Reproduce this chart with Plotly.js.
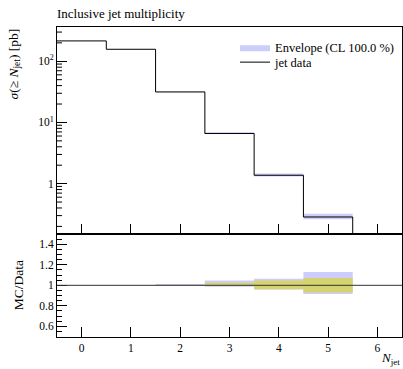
<!DOCTYPE html>
<html>
<head>
<meta charset="utf-8">
<script src="https://cdn.plot.ly/plotly-3.0.1.min.js"></script>
<style>
  html, body { margin: 0; padding: 0; background: #fff; }
  #plot { width: 403px; height: 369px; }
</style>
</head>
<body>
<div id="plot"></div>
<script>
// Inclusive jet multiplicity: cross section sigma(>= N_jet) with MC envelope and ratio panel
const nJet = [0, 1, 2, 3, 4, 5];
const binEdges = [-0.5, 0.5, 1.5, 2.5, 3.5, 4.5, 5.5];
const sigma = [215, 157, 31.5, 6.6, 1.37, 0.285];          // jet data [pb]
const envUp = [1.0, 1.0, 1.013, 1.046, 1.065, 1.130];      // envelope / data, upper
const envLo = [1.0, 1.0, 0.998, 0.987, 0.958, 0.915];      // envelope / data, lower
const uncUp = [1.001, 1.001, 1.003, 1.026, 1.046, 1.071];  // data band, upper
const uncLo = [0.999, 0.999, 0.997, 0.993, 0.961, 0.929];  // data band, lower
const xTickVals = [0, 1, 2, 3, 4, 5, 6];
const yTickVals = [1, 10, 100];
const yTickText = ['1', '10<sup>1</sup>', '10<sup>2</sup>'];

const FONT = '"Liberation Serif", serif';
const mainRange = [-0.817, 2.56];
const ratioRange = [0.496, 1.504];
const split = 0.3335;
const plotWidth = 403 - 57 - 1;

// repeat last value so an 'hv' line covers the final bin
const stepY = v => v.concat([v[v.length - 1]]);
const mul = (a, b) => a.map((v, i) => v * b[i]);

// short minor ticks of the log axis (2..9 in every decade), as domain-relative segments
const minorTicks = [];
for (let d = -1; d <= 2; d++) {
  for (let k = 2; k <= 9; k++) {
    const f = (Math.log10(k * Math.pow(10, d)) - mainRange[0]) / (mainRange[1] - mainRange[0]);
    if (f > 0 && f < 1) {
      minorTicks.push({ type: 'line', xref: 'x domain', yref: 'y domain',
        x0: 0, x1: 5 / plotWidth, y0: f, y1: f, line: { color: '#000', width: 1 } });
    }
  }
}

const envColor = '#cdcdfb';
const uncColor = '#d5d370';

const traces = [
  // envelope band in the main panel
  { x: binEdges, y: stepY(mul(sigma, envLo)), xaxis: 'x', yaxis: 'y', mode: 'lines',
    line: { shape: 'hv', width: 0 }, showlegend: false, hoverinfo: 'skip' },
  { x: binEdges, y: stepY(mul(sigma, envUp)), xaxis: 'x', yaxis: 'y', mode: 'lines',
    line: { shape: 'hv', width: 0 }, fill: 'tonexty', fillcolor: envColor,
    name: 'Envelope (CL 100.0 %)', legend: 'legend' },
  // measured histogram, dropping to the floor after the last bin
  { x: binEdges.concat([binEdges[binEdges.length - 1]]),
    y: stepY(sigma).concat([Math.pow(10, mainRange[0] - 1)]),
    xaxis: 'x', yaxis: 'y', mode: 'lines',
    line: { shape: 'hv', width: 1, color: '#000' }, name: 'jet data', legend: 'legend2' },
  // ratio panel: envelope band
  { x: binEdges, y: stepY(envLo), xaxis: 'x2', yaxis: 'y2', mode: 'lines',
    line: { shape: 'hv', width: 0 }, showlegend: false, hoverinfo: 'skip' },
  { x: binEdges, y: stepY(envUp), xaxis: 'x2', yaxis: 'y2', mode: 'lines',
    line: { shape: 'hv', width: 0 }, fill: 'tonexty', fillcolor: envColor,
    showlegend: false },
  // ratio panel: data uncertainty band
  { x: binEdges, y: stepY(uncLo), xaxis: 'x2', yaxis: 'y2', mode: 'lines',
    line: { shape: 'hv', width: 0 }, showlegend: false, hoverinfo: 'skip' },
  { x: binEdges, y: stepY(uncUp), xaxis: 'x2', yaxis: 'y2', mode: 'lines',
    line: { shape: 'hv', width: 0 }, fill: 'tonexty', fillcolor: uncColor,
    showlegend: false }
];

const xCommon = {
  range: [-0.5, 6.5], tickmode: 'array', tickvals: xTickVals,
  ticks: 'inside', ticklen: 10, tickwidth: 1, tickcolor: '#000',
  showline: true, linecolor: '#000', linewidth: 1, mirror: true,
  showgrid: false, zeroline: false
};
const tickFont = { family: FONT, size: 11.5, color: '#000' };

const layout = {
  width: 403, height: 369,
  margin: { l: 57, r: 1, t: 27, b: 32 },
  paper_bgcolor: '#fff', plot_bgcolor: '#fff',
  font: { family: FONT, size: 11.5, color: '#000' },
  title: { text: 'Inclusive jet multiplicity', font: { family: FONT, size: 13, color: '#000' },
           x: 0, xref: 'paper', xanchor: 'left', y: 1 - 13.5 / 369, yref: 'container', yanchor: 'middle' },
  xaxis: Object.assign({}, xCommon, { anchor: 'y', showticklabels: false }),
  xaxis2: Object.assign({}, xCommon, { anchor: 'y2', showticklabels: true, tickfont: tickFont }),
  yaxis: {
    domain: [split, 1], anchor: 'x', type: 'log', range: mainRange,
    tickmode: 'array', tickvals: yTickVals, ticktext: yTickText,
    ticks: 'inside', ticklen: 10, tickwidth: 1, tickcolor: '#000',
    showline: true, linecolor: '#000', linewidth: 1, mirror: true,
    showgrid: false, zeroline: false, tickfont: tickFont
  },
  yaxis2: {
    domain: [0, split], anchor: 'x2', range: ratioRange,
    tick0: 0, dtick: 0.2,
    ticks: 'inside', ticklen: 10, tickwidth: 1, tickcolor: '#000',
    minor: { ticks: 'inside', ticklen: 5, tickwidth: 1, tickcolor: '#000', dtick: 0.05, showgrid: false },
    showline: true, linecolor: '#000', linewidth: 1, mirror: true,
    showgrid: false, zeroline: false, tickfont: tickFont
  },
  legend: { x: (235 - 57) / 345, xanchor: 'left', y: (337 - 47.5) / 310, yanchor: 'middle',
            bgcolor: 'rgba(0,0,0,0)', font: { family: FONT, size: 12.5 } },
  legend2: { x: (235 - 57) / 345, xanchor: 'left', y: (337 - 62.5) / 310, yanchor: 'middle',
             bgcolor: 'rgba(0,0,0,0)', font: { family: FONT, size: 12.5 } },
  shapes: [
    { type: 'line', xref: 'x2 domain', yref: 'y2', x0: 0, x1: 1, y0: 1, y1: 1,
      line: { color: '#333', width: 1 } }
  ].concat(minorTicks),
  annotations: [
    { text: '<i>σ</i>(≥ <i>N</i><sub>jet</sub>) [pb]', textangle: -90, showarrow: false,
      xref: 'paper', yref: 'paper', x: (14 - 57) / 345, y: 1, xanchor: 'center', yanchor: 'top',
      font: { family: FONT, size: 13.5 } },
    { text: 'MC/Data', textangle: -90, showarrow: false,
      xref: 'paper', yref: 'paper', x: (18 - 57) / 345, y: split / 2, xanchor: 'center', yanchor: 'middle',
      font: { family: FONT, size: 13.5 } },
    { text: '<i>N</i><sub>jet</sub>', showarrow: false,
      xref: 'paper', yref: 'paper', x: 1, y: (337 - 358) / 310, xanchor: 'right', yanchor: 'middle',
      font: { family: FONT, size: 13 } }
  ]
};

Plotly.newPlot('plot', traces, layout, { staticPlot: true, displayModeBar: false });
</script>
</body>
</html>
